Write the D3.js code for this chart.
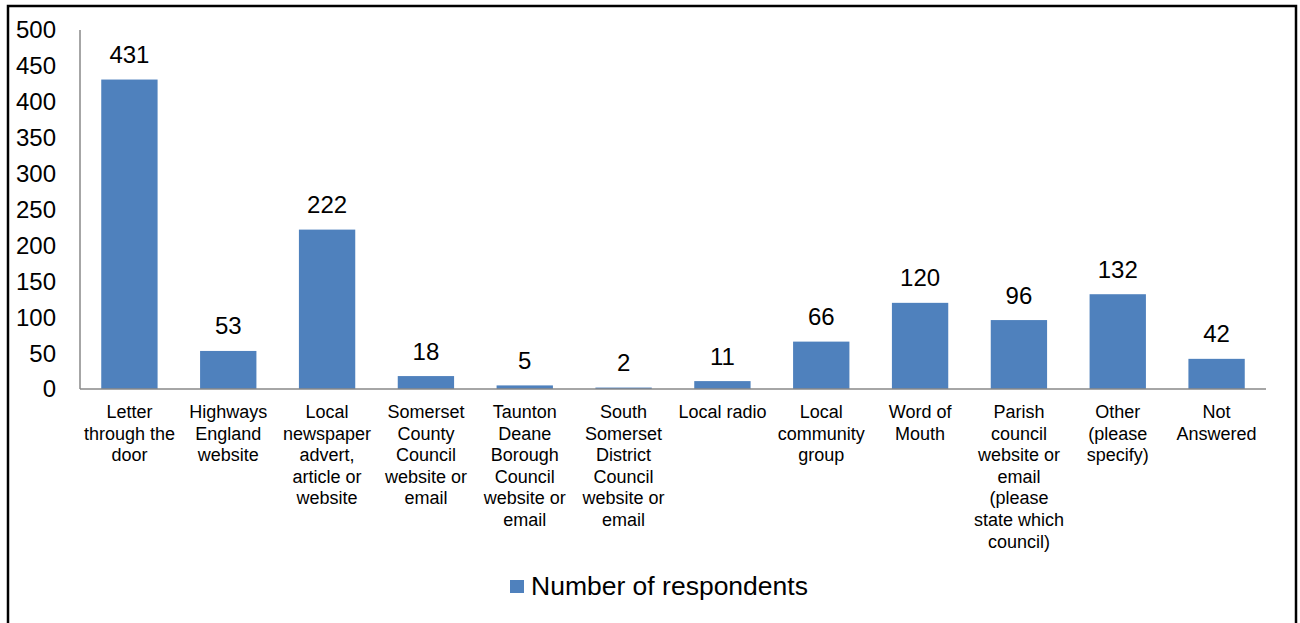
<!DOCTYPE html>
<html><head><meta charset="utf-8">
<script src="https://cdn.jsdelivr.net/npm/d3@7"></script>
<style>body{margin:0;background:#fff;} text{font-family:"Liberation Sans",Arial,sans-serif;fill:#000;}</style>
</head><body>
<svg id="c" width="1300" height="623"></svg>
<script>
const categories = [
  "Letter\nthrough the\ndoor",
  "Highways\nEngland\nwebsite",
  "Local\nnewspaper\nadvert,\narticle or\nwebsite",
  "Somerset\nCounty\nCouncil\nwebsite or\nemail",
  "Taunton\nDeane\nBorough\nCouncil\nwebsite or\nemail",
  "South\nSomerset\nDistrict\nCouncil\nwebsite or\nemail",
  "Local radio",
  "Local\ncommunity\ngroup",
  "Word of\nMouth",
  "Parish\ncouncil\nwebsite or\nemail\n(please\nstate which\ncouncil)",
  "Other\n(please\nspecify)",
  "Not\nAnswered"
];
const values = [431, 53, 222, 18, 5, 2, 11, 66, 120, 96, 132, 42];
const yTicks = [0, 50, 100, 150, 200, 250, 300, 350, 400, 450, 500];
const seriesName = "Number of respondents";

(function () {
const svg = d3.select("#c");
svg.append("rect").attr("x", 8).attr("y", 6).attr("width", 1288).attr("height", 640)
  .attr("fill", "none").attr("stroke", "#000").attr("stroke-width", 2.5);

const pLeft = 80, pRight = 1266, pTop = 30, pBottom = 389;
const x = d3.scaleBand().domain(d3.range(categories.length)).range([pLeft, pRight]).paddingInner(0.43).paddingOuter(0.215);
const y = d3.scaleLinear().domain([0, 500]).range([pBottom, pTop]);
const color = "#4F81BD";

svg.append("g").selectAll("text").data(yTicks).join("text")
  .attr("x", 56).attr("y", d => y(d)).attr("dy", "0.35em")
  .attr("text-anchor", "end").style("font-size", "24px").text(d => d);

svg.append("g").selectAll("rect").data(values).join("rect")
  .attr("x", (d, i) => x(i)).attr("width", x.bandwidth())
  .attr("y", d => y(d)).attr("height", d => pBottom - y(d)).attr("fill", color);

svg.append("line").attr("x1", pLeft).attr("x2", pLeft).attr("y1", pTop).attr("y2", pBottom)
  .attr("stroke", "#898989").attr("stroke-width", 1.5);
svg.append("line").attr("x1", pLeft).attr("x2", pRight).attr("y1", pBottom).attr("y2", pBottom)
  .attr("stroke", "#898989").attr("stroke-width", 1.5);

svg.append("g").selectAll("text").data(values).join("text")
  .attr("x", (d, i) => x(i) + x.bandwidth() / 2).attr("y", d => y(d) - 16.5)
  .attr("text-anchor", "middle").style("font-size", "24px").text(d => d);

const cg = svg.append("g").selectAll("text").data(categories).join("text")
  .attr("text-anchor", "middle").style("font-size", "18px")
  .attr("transform", (d, i) => `translate(${x(i) + x.bandwidth() / 2},418)`);
cg.each(function (d) {
  const t = d3.select(this);
  d.split("\n").forEach((line, k) => {
    t.append("tspan").attr("x", 0).attr("y", k * 21.6).text(line);
  });
});

svg.append("rect").attr("x", 510).attr("y", 580).attr("width", 14).attr("height", 13).attr("fill", color);
svg.append("text").attr("x", 531).attr("y", 595).style("font-size", "26.5px").text(seriesName);
})();
</script>
</body></html>
